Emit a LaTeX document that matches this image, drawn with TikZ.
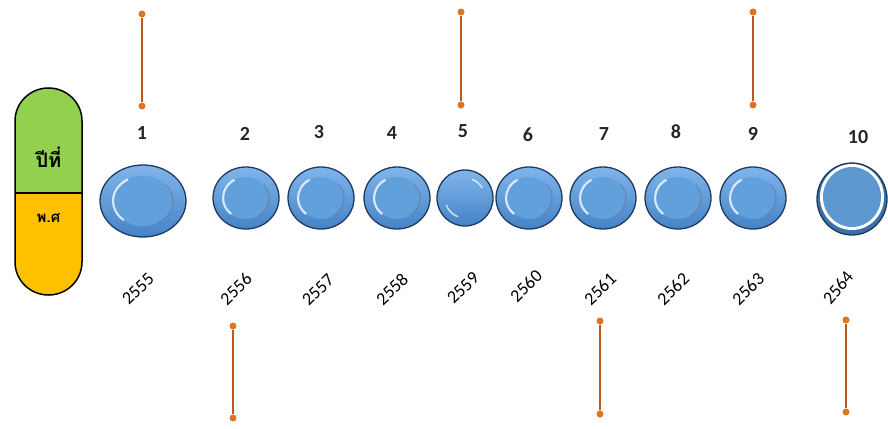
\documentclass[tikz,border=0pt]{standalone}
\usepackage{fontspec}
\setmainfont{Carlito}
\newfontfamily\thaifont[Script=Thai]{Loma}
\usetikzlibrary{shapes.geometric,calc}
\definecolor{capgreen}{HTML}{92D050}
\definecolor{capyellow}{HTML}{FFC000}
\definecolor{discdark}{HTML}{1F3A5F}
\definecolor{disctop}{HTML}{80B5EA}
\definecolor{discbot}{HTML}{4583C6}
\definecolor{discin}{HTML}{62A0DC}
\definecolor{pinline}{HTML}{C0581A}
\definecolor{pindot}{HTML}{E0731F}
\tikzset{
  disc/.style={ellipse, draw=discdark, line width=1.3pt, top color=disctop, bottom color=discbot, inner sep=0pt},
  numlabel/.style={font=\fontsize{20}{20}\selectfont\bfseries, text=black!85},
  yearlabel/.style={font=\fontsize{18}{18}\selectfont, rotate=44, text=black},
  pindotstyle/.style={circle, fill=pindot, inner sep=0pt, minimum size=7pt},
  pinstyle/.style={draw=pinline, line width=1.6pt},
  thai/.style={font=\thaifont\fontsize{20}{20}\selectfont\bfseries}
}
\newcommand{\innerring}[3]{% name, rx, ry
  \fill[discin] (#1.center) ellipse[x radius=#2, y radius=#3];
  \draw[white, opacity=0.75, line width=2.2pt] (#1.center) ++(120:#2 and #3) arc[start angle=120, end angle=230, x radius=#2, y radius=#3];
  \draw[discdark!70, opacity=0.5, line width=1.2pt] (#1.center) ++(-60:#2 and #3) arc[start angle=-60, end angle=40, x radius=#2, y radius=#3];
}
\begin{document}
\begin{tikzpicture}[x=1pt,y=-1pt]
\useasboundingbox (0,0) rectangle (888,428);
% capsule
\fill[capgreen] (15,193) -- (15,121) arc[start angle=180, end angle=360, x radius=33.5, y radius=33] -- (82,193) -- cycle;
\fill[capyellow] (15,193) -- (15,262) arc[start angle=180, end angle=0, x radius=33.5, y radius=33] -- (82,193) -- cycle;
\draw[line width=1.5pt, black] (15,121) arc[start angle=180, end angle=360, x radius=33.5, y radius=33] -- (82,262) arc[start angle=0, end angle=180, x radius=33.5, y radius=33] -- cycle;
\draw[line width=1.5pt] (15,193) -- (82,193);
\node[thai] (capTop) at (48.5,157) {ปีที่};
\node[thai, font=\thaifont\fontsize{15}{15}\selectfont\bfseries] (capBot) at (48.5,218) {พ.ศ};

% discs
\node[disc, minimum width=86pt, minimum height=72pt] (d1) at (143,201) {};
\innerring{d1}{30pt}{25pt}
\foreach \n/\x in {2/246,3/321,4/397,6/529,7/603,8/678,9/753} {
  \node[disc, minimum width=66pt, minimum height=62pt] (d\n) at (\x,198) {};
  \innerring{d\n}{23pt}{21pt}
}
\node[disc, minimum width=56pt, minimum height=56pt] (d5) at (465,198) {};
\draw[white, opacity=0.7, line width=1.5pt] (d5.center) ++(30:20pt) arc[start angle=30, end angle=70, radius=20pt];
\draw[white, opacity=0.7, line width=1.5pt] (d5.center) ++(200:20pt) arc[start angle=200, end angle=250, radius=20pt];
\node[ellipse, draw=discdark, line width=1.3pt, fill=discbot!85!black, minimum width=70pt, minimum height=72pt, inner sep=0pt] (d10) at (852,199) {};
\fill[white] (d10.center) ++(0,-2) ellipse[x radius=32pt, y radius=33pt];
\fill[discin!95!black] (d10.center) ++(0,-2) ellipse[x radius=29pt, y radius=30pt];

% number labels
\foreach \n/\x/\y in {1/142/133,2/245/134,3/319/132,4/392/133,5/463/131,6/528/135,7/604/134,8/676/132,9/753/134,10/858/137} {
  \node[numlabel] (n\n) at (\x,\y) {\n};
}
% year labels
\foreach \yr/\x/\y in {2555/138/289,2556/236/289,2557/318/290,2558/392/289,2559/463/288,2560/526/286,2561/600/289,2562/673/289,2563/748/289} {
  \node[yearlabel] (y\yr) at (\x,\y) {\yr};
}
\node[yearlabel, rotate=6] (y2564) at (838,288) {2564};

% pins
\foreach \i/\x/\ya/\yb in {a/142/14/106,b/461/12/105,c/753/12/105,d/233/326/418,e/600/321/414,f/846/320/412} {
  \node[pindotstyle] (p\i1) at (\x,\ya) {};
  \node[pindotstyle] (p\i2) at (\x,\yb) {};
  \draw[pinstyle] (p\i1) -- (p\i2);
}
\end{tikzpicture}
\end{document}
